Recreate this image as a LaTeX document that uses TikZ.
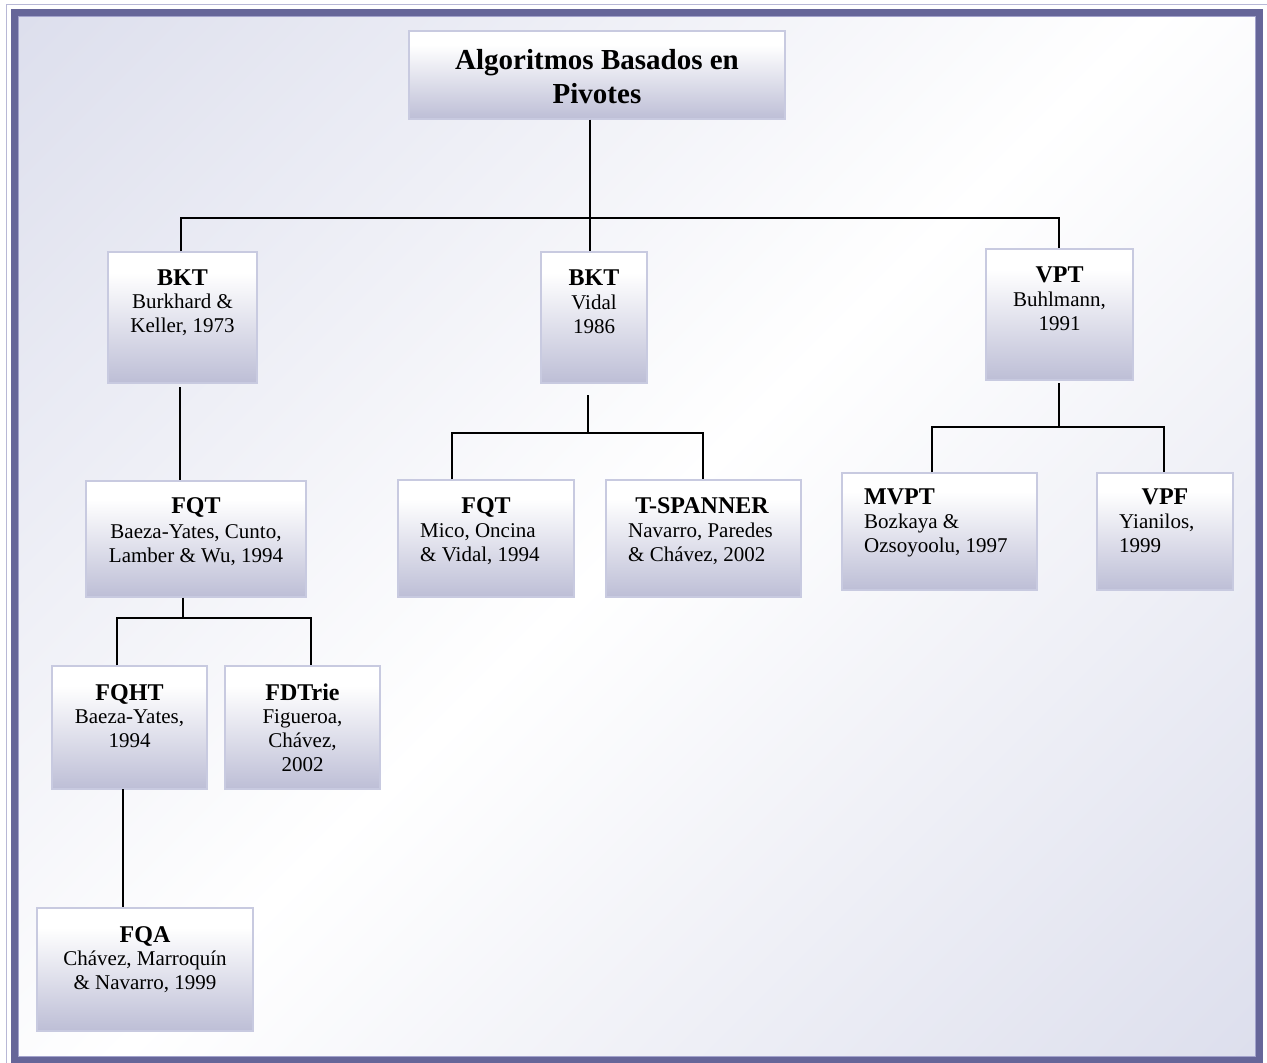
\documentclass[tikz,border=0pt]{standalone}
\usepackage{fontspec}
\setmainfont{Liberation Serif}
\usetikzlibrary{calc}

\definecolor{framepurple}{HTML}{666699}
\definecolor{frameedge}{HTML}{A3A3CC}
\definecolor{outerline}{HTML}{B8B8D6}
\definecolor{bglav}{HTML}{DDDFED}
\definecolor{cardline}{HTML}{C8CAE0}
\definecolor{cardlow}{HTML}{BDBED6}

% page wash: lavender in two opposite corners, white across the middle
\pgfdeclarehorizontalshading{pagewash}{100bp}{color(0bp)=(bglav); color(14.64bp)=(bglav); color(50bp)=(white); color(85.36bp)=(bglav); color(100bp)=(bglav)}
% card wash: white on top fading to lavender at the bottom
\pgfdeclareverticalshading{cardwash}{100bp}{color(0bp)=(cardlow); color(25bp)=(cardlow); color(67bp)=(white); color(100bp)=(white)}

\tikzset{
  cardbox/.style={rectangle, draw=cardline, line width=1.2pt, shade, shading=cardwash, inner sep=0pt},
  cardhead/.style={font=\fontsize{24}{28}\selectfont\bfseries, inner sep=0pt},
  cardbody/.style={font=\fontsize{21}{24.3}\selectfont, inner sep=0pt},
  toptitle/.style={font=\fontsize{29}{34}\selectfont\bfseries, inner sep=0pt, align=center},
  link/.style={line width=1.8pt, black, line join=miter},
}

% \card{name}{x1}{y1}{x2}{y2}
\newcommand\card[5]{%
  \node[cardbox, minimum width={#4pt-#2pt}, minimum height={#5pt-#3pt}]
    (#1) at ({(#2+#4)/2},{(#3+#5)/2}) {};}

\begin{document}
\begin{tikzpicture}[x=1pt, y=-1pt]
\useasboundingbox (0,0) rectangle (1267,1063);

% frame
\fill[white] (0,0) rectangle (1267,1063);
\draw[outerline, line width=1.2pt] (6.5,4.5) rectangle (1270,1068);
\shade[shading=pagewash, shading angle=-45] (17.75,16.25) rectangle (1256,1057);
\draw[framepurple, line width=7pt] (14.25,12.75) rectangle (1259.5,1060.5);
\draw[frameedge, line width=1.1pt] (18.3,16.8) rectangle (1255.5,1056.5);

% cards
\card{top}{409}{31}{785}{119}
\card{bkt1}{108}{252}{257}{383}
\card{bkt2}{541}{252}{647}{383}
\card{vpt}{986}{249}{1133}{380}
\card{fqt1}{86}{481}{306}{597}
\card{fqt2}{398}{480}{574}{597}
\card{tsp}{606}{480}{801}{597}
\card{mvpt}{842}{473}{1037}{590}
\card{vpf}{1097}{473}{1233}{590}
\card{fqht}{52}{666}{207}{789}
\card{fdtrie}{225}{666}{380}{789}
\card{fqa}{37}{908}{253}{1031}

% card texts
\node[toptitle, anchor=north] (top-t) at (597,48) {\rule{0pt}{21pt}Algoritmos Basados en\\Pivotes};

\node[cardhead, anchor=base] (bkt1-h) at (182.5,285) {BKT};
\node[cardbody, anchor=north, align=center] (bkt1-b) at (182.5,292) {\rule{0pt}{16pt}Burkhard \&\\Keller, 1973};

\node[cardhead, anchor=base] (bkt2-h) at (594,285) {BKT};
\node[cardbody, anchor=north, align=center] (bkt2-b) at (594,293) {\rule{0pt}{16pt}Vidal\\1986};

\node[cardhead, anchor=base] (vpt-h) at (1059.5,282) {VPT};
\node[cardbody, anchor=north, align=center] (vpt-b) at (1059.5,290) {\rule{0pt}{16pt}Buhlmann,\\1991};

\node[cardhead, anchor=base] (fqt1-h) at (196,513) {FQT};
\node[cardbody, anchor=north, align=center] (fqt1-b) at (196,522) {\rule{0pt}{16pt}Baeza-Yates, Cunto,\\Lamber \& Wu, 1994};

\node[cardhead, anchor=base] (fqt2-h) at (486,513) {FQT};
\node[cardbody, anchor=north west, align=left] (fqt2-b) at (420,521) {\rule{0pt}{16pt}Mico, Oncina\\\& Vidal, 1994};

\node[cardhead, anchor=base] (tsp-h) at (702,513) {T-SPANNER};
\node[cardbody, anchor=north west, align=left] (tsp-b) at (628,521) {\rule{0pt}{16pt}Navarro, Paredes\\\& Chávez, 2002};

\node[cardhead, anchor=base west] (mvpt-h) at (864,504) {MVPT};
\node[cardbody, anchor=north west, align=left] (mvpt-b) at (864,512) {\rule{0pt}{16pt}Bozkaya \&\\Ozsoyoolu, 1997};

\node[cardhead, anchor=base] (vpf-h) at (1165,504) {VPF};
\node[cardbody, anchor=north west, align=left] (vpf-b) at (1119,512) {\rule{0pt}{16pt}Yianilos,\\1999};

\node[cardhead, anchor=base] (fqht-h) at (129.5,700) {FQHT};
\node[cardbody, anchor=north, align=center] (fqht-b) at (129.5,707) {\rule{0pt}{16pt}Baeza-Yates,\\1994};

\node[cardhead, anchor=base] (fdtrie-h) at (302.5,700) {FDTrie};
\node[cardbody, anchor=north, align=center] (fdtrie-b) at (302.5,707) {\rule{0pt}{16pt}Figueroa,\\Chávez,\\2002};

\node[cardhead, anchor=base] (fqa-h) at (145,942) {FQA};
\node[cardbody, anchor=north, align=center] (fqa-b) at (145,949) {\rule{0pt}{16pt}Chávez, Marroquín\\\& Navarro, 1999};

% connector junctions
\coordinate (tj) at (590,218);
\coordinate (tl) at (181,218);
\coordinate (tr) at (1059,218);
\coordinate (b1s) at (180,387);
\coordinate (b2s) at (588,395);
\coordinate (b2j) at (588,433);
\coordinate (b2l) at (452,433);
\coordinate (b2r) at (703,433);
\coordinate (vs) at (1059,383);
\coordinate (vj) at (1059,427);
\coordinate (vl) at (932,427);
\coordinate (vr) at (1164,427);
\coordinate (f1j) at (183,618);
\coordinate (f1l) at (117,618);
\coordinate (f1r) at (311,618);
\coordinate (q1) at (123,789);

% connectors
\draw[link] (top.south -| tj) -- (tj |- bkt2.north);
\draw[link] (tl |- bkt1.north) -- (tl) -- (tr) -- (tr |- vpt.north);

\draw[link] (b1s) -- (b1s |- fqt1.north);

\draw[link] (b2s) -- (b2j);
\draw[link] (b2l |- fqt2.north) -- (b2l) -- (b2r) -- (b2r |- tsp.north);

\draw[link] (vs) -- (vj);
\draw[link] (vl |- mvpt.north) -- (vl) -- (vr) -- (vr |- vpf.north);

\draw[link] (fqt1.south -| f1j) -- (f1j);
\draw[link] (f1l |- fqht.north) -- (f1l) -- (f1r) -- (f1r |- fdtrie.north);

\draw[link] (q1) -- (q1 |- fqa.north);
\end{tikzpicture}
\end{document}
